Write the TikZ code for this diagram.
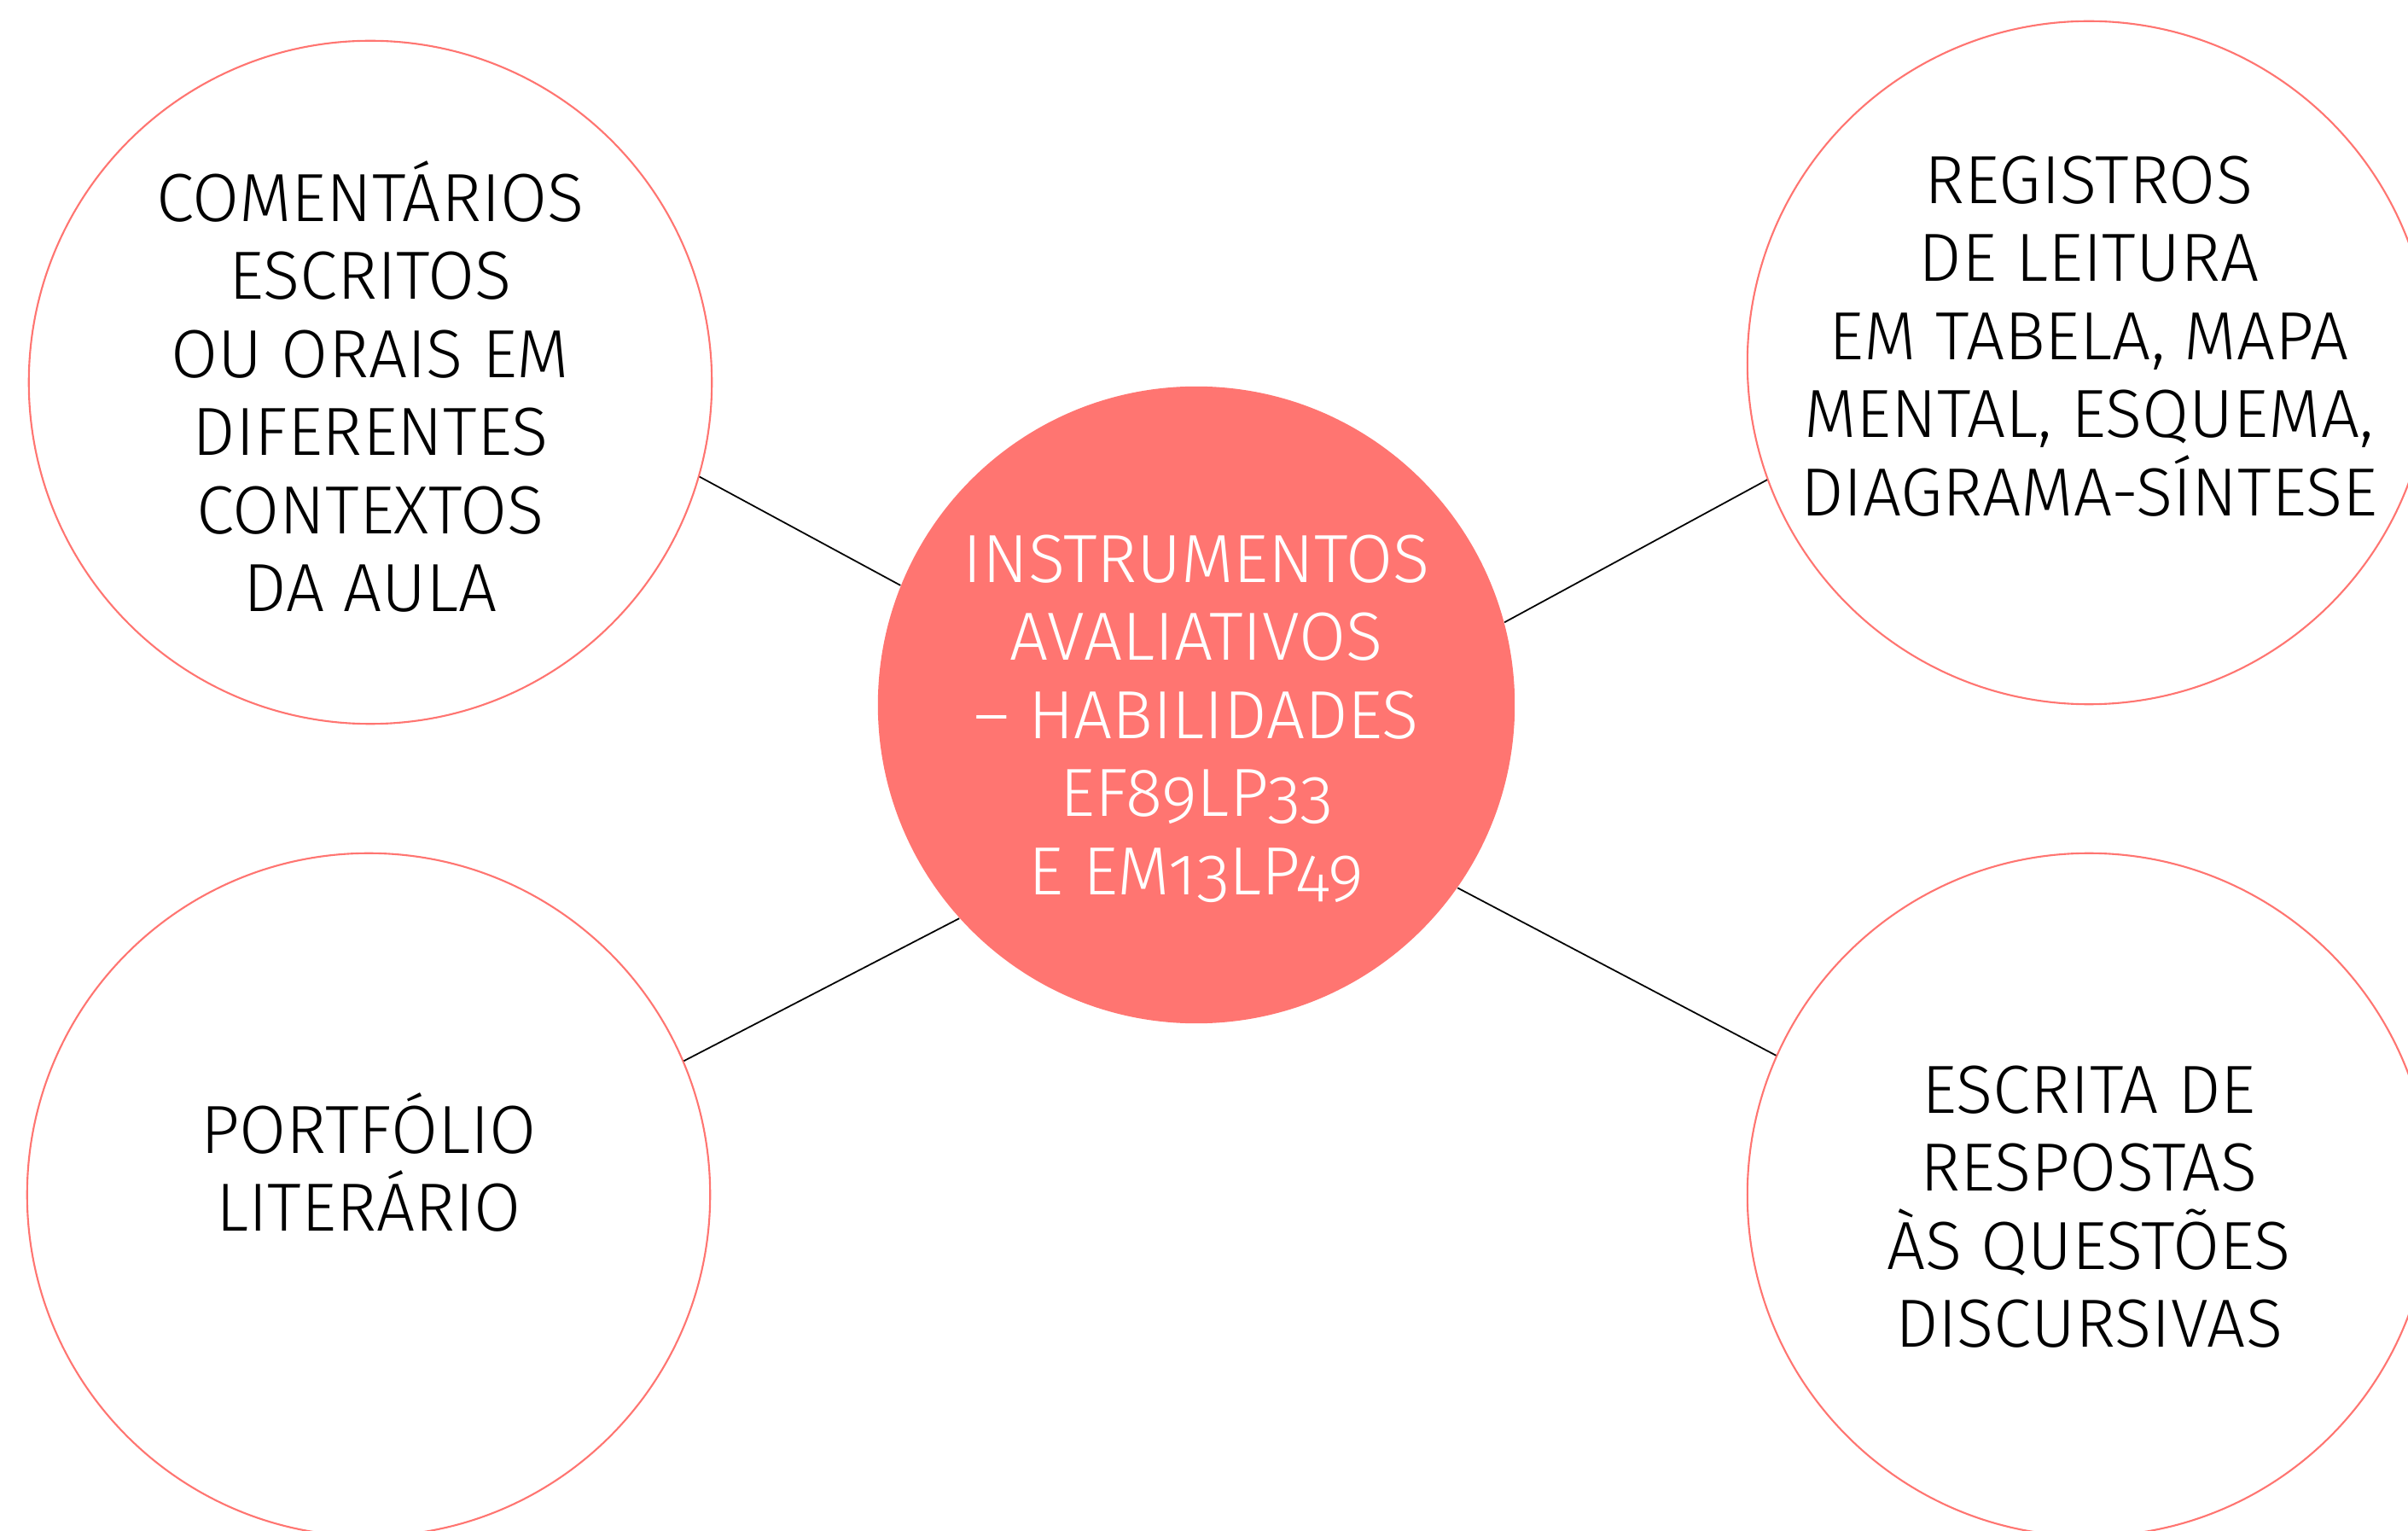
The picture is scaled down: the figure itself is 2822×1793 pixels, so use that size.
\documentclass[tikz,border=0pt]{standalone}
\usepackage{fontspec}
\setmainfont{Fira Sans}[UprightFont=* Light, Numbers=OldStyle]
\usetikzlibrary{positioning}
\definecolor{salmon}{HTML}{FF7571}
\tikzstyle{bubble}=[circle, draw=salmon, line width=0.6pt, inner sep=0pt, minimum size=8cm]
\tikzstyle{hub}=[circle, fill=salmon, inner sep=0pt, minimum size=7.46cm]
\tikzstyle{txt}=[inner sep=0pt, align=center, font=\fontsize{22.7}{26}\selectfont]

\begin{document}
\begin{tikzpicture}[x=0.01cm, y=0.01cm, every edge/.style={ draw, line width=0.5pt } ]
\useasboundingbox (0,0) rectangle (2822,1793);
\node[hub] (ctr) at (1402,967) {};
\node[bubble] (tl) at (434,1345) {};
\node[bubble] (tr) at (2448,1368) {};
\node[bubble] (bl) at (432,393) {};
\node[bubble] (br) at (2448,393) {};
% texts
\node[txt, text=white] (ctrtxt) at ([yshift=-0.16cm]ctr.center) {INSTRUMENTOS\\AVALIATIVOS\\-- HABILIDADES\\EF89LP33\\E EM13LP49};
\node[txt] (tltxt) at ([yshift=-0.05cm]tl.center) {COMENTÁRIOS\\ESCRITOS\\OU ORAIS EM\\DIFERENTES\\CONTEXTOS\\DA AULA};
\node[txt] (trtxt) at ([yshift=0.31cm]tr.center) {REGISTROS\\DE LEITURA\\EM TABELA, MAPA\\MENTAL, ESQUEMA,\\DIAGRAMA-SÍNTESE};
\node[txt] (bltxt) at ([yshift=0.38cm]bl.center) {PORTFÓLIO\\LITERÁRIO};
\node[txt] (brtxt) at ([yshift=-0.14cm]br.center) {ESCRITA DE\\RESPOSTAS\\ÀS QUESTÕES\\DISCURSIVAS};
\path
(ctr.158) edge (tl.-16)
(ctr.15) edge (tr.-160)
(ctr.-138) edge (bl.23)
(ctr.-35) edge (br.156)
;
\end{tikzpicture}
\end{document}
